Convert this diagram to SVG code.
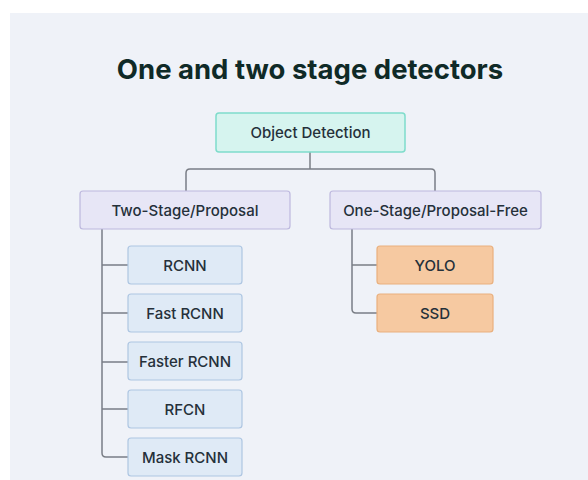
<svg xmlns="http://www.w3.org/2000/svg" width="588" height="480" viewBox="0 0 588 480">
<style>
text{font-family:Inter,"Noto Sans",sans-serif;fill:#25303a;text-anchor:middle;dominant-baseline:central}
.title{font-size:27.5px;font-weight:700;fill:#0f2a27}
.lbl{font-size:15px;font-weight:500}
.root{fill:#d6f4ef;stroke:#7fdccb;stroke-width:1.5}
.cat{fill:#e7e6f6;stroke:#bdb8de;stroke-width:1.2}
.two{fill:#dfeaf6;stroke:#aec6e2;stroke-width:1.2}
.one{fill:#f6c9a1;stroke:#e9b07e;stroke-width:1.2}
.conn path{fill:none;stroke:#7a7e86;stroke-width:1.5}
</style>
<rect x="0" y="0" width="588" height="480" fill="#ffffff"/>
<rect x="10" y="13" width="578" height="467" fill="#eff2f8"/>
<text class="title" x="310" y="69">One and two stage detectors</text>
<g class="conn" id="connectors">
<path d="M310,152 V169"/>
<path d="M435,191 V173 Q435,169 431,169 H190 Q186,169 186,173 V191"/>
<path d="M102,229 V453 Q102,457 106,457 H128"/>
<path d="M102,265 H128 M102,313 H128 M102,362 H128 M102,409 H128"/>
<path d="M352,229 V309 Q352,313 356,313 H377"/>
<path d="M352,265 H377"/>
</g>
<g id="object-detection"><rect class="root" x="216" y="113" width="189" height="39" rx="3"/><text class="lbl" x="310.5" y="132.5">Object Detection</text></g>
<g id="two-stage"><rect class="cat" x="80" y="191" width="210" height="38" rx="3"/><text class="lbl" x="185" y="210">Two-Stage/Proposal</text></g>
<g id="one-stage"><rect class="cat" x="330" y="191" width="211" height="38" rx="3"/><text class="lbl" x="435.5" y="210">One-Stage/Proposal-Free</text></g>
<g id="rcnn"><rect class="two" x="128" y="246" width="114" height="38" rx="3"/><text class="lbl" x="185" y="265">RCNN</text></g>
<g id="fast-rcnn"><rect class="two" x="128" y="294" width="114" height="38" rx="3"/><text class="lbl" x="185" y="313">Fast RCNN</text></g>
<g id="faster-rcnn"><rect class="two" x="128" y="342" width="114" height="38" rx="3"/><text class="lbl" x="185" y="361">Faster RCNN</text></g>
<g id="rfcn"><rect class="two" x="128" y="390" width="114" height="38" rx="3"/><text class="lbl" x="185" y="409">RFCN</text></g>
<g id="mask-rcnn"><rect class="two" x="128" y="438" width="114" height="38" rx="3"/><text class="lbl" x="185" y="457">Mask RCNN</text></g>
<g id="yolo"><rect class="one" x="377" y="246" width="116" height="38" rx="3"/><text class="lbl" x="435" y="265">YOLO</text></g>
<g id="ssd"><rect class="one" x="377" y="294" width="116" height="38" rx="3"/><text class="lbl" x="435" y="313">SSD</text></g>
</svg>
